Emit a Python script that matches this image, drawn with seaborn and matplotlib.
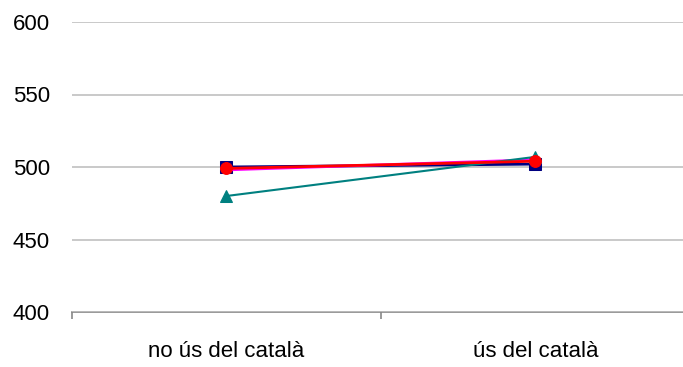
import matplotlib
matplotlib.use("Agg")
import matplotlib.pyplot as plt
import seaborn as sns
import pandas as pd

categories = ["no ús del català", "ús del català"]
series_names = ["A", "B", "C", "D"]
serie_a = [500, 502]   # navy squares
serie_b = [498, 505]   # magenta
serie_c = [480, 507]   # teal triangles
serie_d = [499, 504]   # red circles
yticks = [400, 450, 500, 550, 600]

colors = {"A": "#000080", "B": "#FF00FF", "C": "#008080", "D": "#FF0000"}
markers = {"A": "s", "B": "", "C": "^", "D": "o"}
msizes = {"A": 8, "B": 0, "C": 9, "D": 8.5}
lwidths = {"A": 2.0, "B": 2.0, "C": 1.5, "D": 2.0}

rows = []
for name, vals in zip(series_names, [serie_a, serie_b, serie_c, serie_d]):
    for i, v in enumerate(vals):
        rows.append({"x": i, "y": v, "serie": name})
df = pd.DataFrame(rows)

sns.set_style("white")
plt.rcParams["font.family"] = ["Liberation Sans", "DejaVu Sans"]

fig = plt.figure(figsize=(6.83, 3.67), dpi=100)
ax = fig.add_axes([72/683, 1-312/367, (690-72)/683, (312-22)/367])

for name in series_names:
    sub = df[df.serie == name]
    m = markers[name]
    sns.lineplot(data=sub, x="x", y="y", ax=ax, color=colors[name],
                 marker=m if m else None, markersize=msizes[name],
                 markeredgecolor=colors[name], linewidth=lwidths[name], legend=False)

ax.set_xlim(-0.5, 1.5)
ax.set_ylim(400, 600)
ax.set_yticks(yticks)
ax.set_yticklabels([str(t) for t in yticks], fontsize=16, color="black")
ax.set_xticks([0, 1])
ax.set_xticklabels(categories, fontsize=16, color="black")
ax.set_xticks([-0.5, 0.5, 1.5], minor=True)
ax.tick_params(axis="x", which="major", length=0, pad=21)
ax.tick_params(axis="x", which="minor", bottom=True, length=5, width=1.2,
               color="#888888", direction="out")
ax.tick_params(axis="y", length=0, pad=16)
ax.set_xlabel("")
ax.set_ylabel("")
ax.grid(axis="y", color="#c0c0c0", linewidth=1.2)
ax.set_axisbelow(True)
for s in ["top", "right", "left"]:
    ax.spines[s].set_visible(False)
ax.spines["bottom"].set_color("#888888")
ax.spines["bottom"].set_linewidth(1.2)
ax.spines["bottom"].set_zorder(0.5)

fig.savefig("out.png", dpi=100)
